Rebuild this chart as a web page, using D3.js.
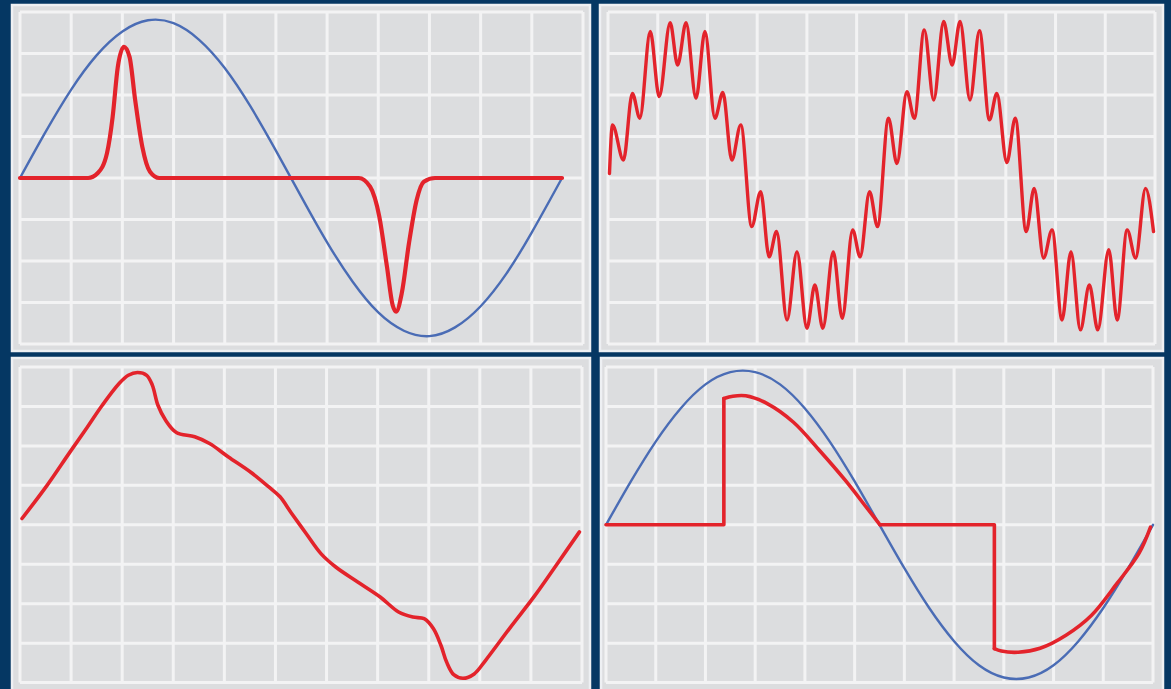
<!DOCTYPE html>
<html>
<head>
<meta charset="utf-8">
<script src="https://cdn.jsdelivr.net/npm/d3@7"></script>
<style>
  html, body { margin: 0; padding: 0; background: #053763; }
  svg { display: block; }
</style>
</head>
<body>
<svg id="chart" width="1171" height="689"></svg>
<script>
// ---- Data (in grid divisions: x 0..11, y -4..4) ----
const gridCols = d3.range(0, 12);
const gridRows = d3.range(-4, 5);

// Top-left: blue sine and red pulse pair
const blueTL = [[0,0],[0.5,1.11],[1,2.13],[1.5,2.96],[2,3.53],[2.5,3.80],[3,3.73],[3.5,3.33],[4,2.65],[4.5,1.73],[5,0.66],[5.5,-0.46],[6,-1.55],[6.5,-2.50],[7,-3.24],[7.5,-3.68],[8,-3.81],[8.5,-3.60],[9,-3.09],[9.5,-2.31],[10,-1.31],[10.59,0]];
const redTL = [[0,0],[1.33,0],[1.52,0.12],[1.70,0.60],[1.81,1.47],[1.91,2.67],[2.03,3.16],[2.14,2.92],[2.25,1.88],[2.39,0.75],[2.54,0.15],[2.72,0],[6.62,0],[6.84,-0.21],[7.02,-0.93],[7.17,-2.14],[7.28,-3.06],[7.35,-3.22],[7.46,-2.77],[7.60,-1.57],[7.75,-0.53],[7.89,-0.09],[8.11,0],[10.59,0]];

// Top-right: sine with ripple (local peaks and troughs)
const redTR = [[0.03,0.11],[0.09,1.28],[0.31,0.43],[0.49,2.04],[0.64,1.44],[0.85,3.53],[1.03,1.96],[1.25,3.74],[1.40,2.72],[1.57,3.74],[1.77,1.92],[1.95,3.53],[2.15,1.44],[2.31,2.06],[2.49,0.43],[2.67,1.28],[2.89,-1.17],[3.07,-0.33],[3.24,-1.90],[3.39,-1.29],[3.60,-3.42],[3.80,-1.78],[4.00,-3.62],[4.16,-2.58],[4.32,-3.62],[4.53,-1.78],[4.71,-3.38],[4.92,-1.25],[5.07,-1.90],[5.26,-0.33],[5.42,-1.17],[5.64,1.44],[5.81,0.35],[6.01,2.08],[6.16,1.44],[6.36,3.57],[6.55,1.88],[6.75,3.77],[6.92,2.72],[7.08,3.77],[7.28,1.88],[7.47,3.55],[7.67,1.40],[7.82,2.04],[8.02,0.37],[8.19,1.44],[8.41,-1.29],[8.57,-0.25],[8.76,-1.93],[8.93,-1.25],[9.13,-3.42],[9.31,-1.78],[9.50,-3.66],[9.68,-2.58],[9.85,-3.66],[10.07,-1.73],[10.24,-3.42],[10.44,-1.25],[10.61,-1.93],[10.81,-0.25],[10.97,-1.29]];

// Bottom-left: distorted waveform
const redBL = [[0.04,0.16],[0.53,1.00],[0.96,1.81],[1.32,2.48],[1.61,3.03],[1.94,3.58],[2.12,3.79],[2.30,3.86],[2.48,3.79],[2.59,3.54],[2.70,3.03],[2.85,2.65],[3.06,2.34],[3.42,2.23],[3.71,2.06],[4.08,1.72],[4.51,1.34],[4.87,0.96],[5.09,0.71],[5.30,0.32],[5.60,-0.22],[5.89,-0.73],[6.18,-1.07],[6.61,-1.45],[7.05,-1.83],[7.41,-2.21],[7.69,-2.34],[7.91,-2.38],[8.09,-2.63],[8.24,-3.06],[8.35,-3.48],[8.49,-3.80],[8.67,-3.89],[8.89,-3.78],[9.11,-3.44],[9.58,-2.63],[10.08,-1.79],[10.52,-0.98],[10.95,-0.18]];

// Bottom-right: blue sine and phase-cut red waveform
const blueBR = [[0,0],[0.5,1.10],[1,2.11],[1.5,2.95],[2,3.56],[2.5,3.87],[3,3.87],[3.5,3.56],[4,2.95],[4.5,2.11],[5,1.10],[5.5,0],[6,-1.10],[6.5,-2.11],[7,-2.95],[7.5,-3.56],[8,-3.87],[8.5,-3.87],[9,-3.56],[9.5,-2.95],[10,-2.11],[10.5,-1.10],[11,0]];
const redBRStep1 = [[0,0],[2.37,0],[2.37,3.20]];
const redBRPos = [[2.37,3.20],[2.55,3.26],[2.81,3.27],[3.26,3.06],[3.77,2.60],[4.29,1.89],[4.81,1.13],[5.25,0.42],[5.51,0]];
const redBRStep2 = [[5.51,0],[7.81,0],[7.81,-3.14]];
const redBRNeg = [[7.81,-3.14],[7.95,-3.20],[8.29,-3.23],[8.73,-3.13],[9.25,-2.80],[9.76,-2.30],[10.28,-1.48],[10.72,-0.72],[10.95,-0.06]];

// ---- Layout ----
const panels = [
  { box:[12,5,590,351],   grid:[20,12,583,344] },
  { box:[600,5,1163,351], grid:[608,12,1155,344] },
  { box:[12,358,590,700], grid:[20,367,582,682.6] },
  { box:[601,358,1163,700], grid:[606,367,1153,682.6] }
];
const RED = "#e3232b", BLUE = "#4a6cb5";

const svg = d3.select("#chart");
svg.append("rect").attr("width",1171).attr("height",689).attr("fill","#053763");

function makePanel(p) {
  const [bx0,by0,bx1,by1] = p.box;
  const [gx0,gy0,gx1,gy1] = p.grid;
  const g = svg.append("g");
  g.append("rect").attr("x",bx0).attr("y",by0).attr("width",bx1-bx0).attr("height",by1-by0)
    .attr("fill","#dcdddf").attr("stroke","#eef0f3").attr("stroke-width",2.5);
  const x = d3.scaleLinear().domain([0,11]).range([gx0,gx1]);
  const y = d3.scaleLinear().domain([-4,4]).range([gy1,gy0]);
  const grid = g.append("g").attr("stroke","#f3f3f4").attr("stroke-width",3);
  grid.selectAll("line.v").data(gridCols).join("line").attr("class","v")
    .attr("x1",d=>x(d)).attr("x2",d=>x(d)).attr("y1",y(4)).attr("y2",y(-4));
  grid.selectAll("line.h").data(gridRows).join("line").attr("class","h")
    .attr("y1",d=>y(d)).attr("y2",d=>y(d)).attr("x1",x(0)).attr("x2",x(11));
  return {g,x,y};
}

function draw(P, data, color, width, curve) {
  const line = d3.line().x(d=>P.x(d[0])).y(d=>P.y(d[1])).curve(curve);
  P.g.append("path").attr("d", line(data)).attr("fill","none")
    .attr("stroke",color).attr("stroke-width",width)
    .attr("stroke-linejoin","round").attr("stroke-linecap","round");
}

const smooth = d3.curveCatmullRom.alpha(0.5);

const TL = makePanel(panels[0]);
draw(TL, blueTL, BLUE, 2.4, d3.curveNatural);
draw(TL, redTL, RED, 4.2, d3.curveMonotoneX);

const TR = makePanel(panels[1]);
draw(TR, redTR, RED, 3.4, d3.curveMonotoneX);

const BL = makePanel(panels[2]);
draw(BL, redBL, RED, 3.6, smooth);

const BR = makePanel(panels[3]);
draw(BR, blueBR, BLUE, 2.4, d3.curveNatural);
draw(BR, redBRStep1, RED, 3.6, d3.curveLinear);
draw(BR, redBRPos, RED, 3.6, smooth);
draw(BR, redBRStep2, RED, 3.6, d3.curveLinear);
draw(BR, redBRNeg, RED, 3.6, smooth);
</script>
</body>
</html>
